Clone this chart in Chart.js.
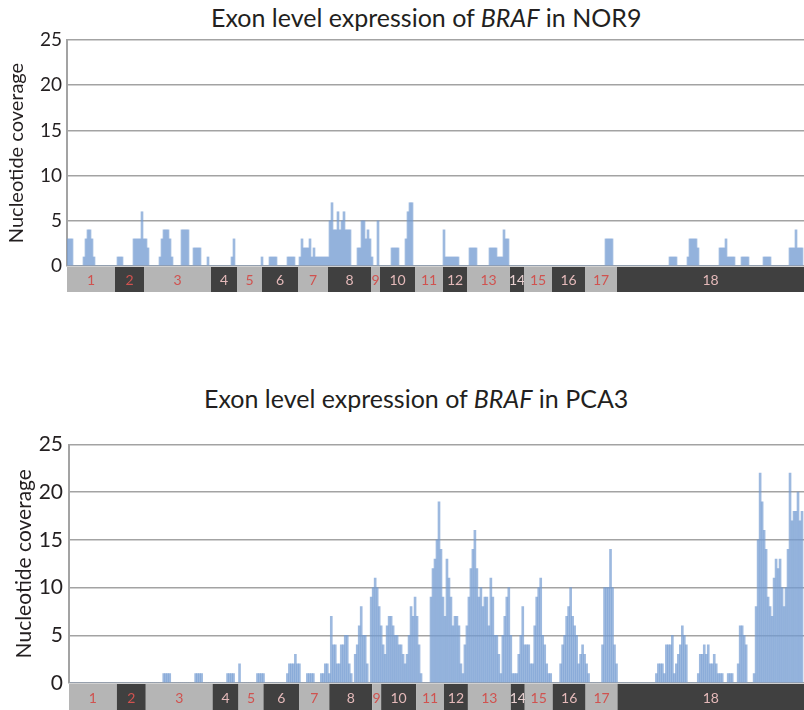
<!DOCTYPE html>
<html>
<head>
<meta charset="utf-8">
<script src="https://cdn.jsdelivr.net/npm/chart.js@4.4.1/dist/chart.umd.min.js"></script>
<style>
  body { margin: 0; width: 804px; height: 710px; overflow: hidden; background: #fff; font-family: Lato, sans-serif; }
  .title { position: absolute; font-size: 25px; line-height: 1; color: #231f20; white-space: nowrap; }
  .box { position: absolute; left: 0; width: 804px; }
</style>
</head>
<body>
<div class="title" style="left:211px; top:5px">Exon level expression of <i>BRAF</i> in NOR9</div>
<div class="box" style="top:0; height:300px"><canvas id="nor9"></canvas></div>
<div class="title" style="left:204px; top:386px">Exon level expression of <i>BRAF</i> in PCA3</div>
<div class="box" style="top:380px; height:330px"><canvas id="pca3"></canvas></div>
<script>
// exon track along the gene (units = position bins of 2, same scale as the coverage)
const exonNames = ["1", "2", "3", "4", "5", "6", "7", "8", "9", "10", "11", "12", "13", "14", "15", "16", "17", "18"];
const exonEdges = [0, 48, 77, 144, 170, 195, 231, 261, 304, 313, 348, 376, 400, 443, 457, 485, 518, 550, 737];
const exonFill = ["#b5b5b5", "#404040"];
const exonText = ["#d0524f", "#d0524f", "#d0524f", "#e4b9b9", "#d0524f", "#e4b9b9", "#d0524f", "#e4b9b9", "#d0524f",
                  "#e4b9b9", "#d0524f", "#e4b9b9", "#d0524f", "#e8d0d0", "#d0524f", "#e4b9b9", "#d0524f", "#e4b9b9"];

const yTicks = [0, 5, 10, 15, 20, 25];
const binWidth = 2;

// nucleotide coverage per bin, NOR9
const nor9 = [
  3,3,3,0,0,0,0,0,1,3,4,4,3,1,0,0,0,0,0,0,
  0,0,0,0,0,1,1,1,0,0,0,0,0,3,3,3,3,6,3,3,
  2,0,0,0,0,0,1,3,4,4,4,3,1,0,0,0,0,4,4,4,
  4,0,0,2,2,2,2,0,0,0,1,0,0,0,0,0,0,0,0,0,
  0,0,1,3,0,0,0,0,0,0,0,0,0,0,0,0,0,1,0,0,
  0,1,1,1,1,0,0,0,0,0,1,1,1,1,0,0,1,3,2,2,
  2,3,1,2,1,1,1,1,1,1,1,5,7,4,4,6,4,5,6,4,
  4,4,0,0,0,2,2,5,5,3,4,3,1,0,0,5,0,0,0,0,
  0,0,2,2,2,2,0,0,0,3,6,7,7,0,0,0,0,0,0,0,
  0,0,0,0,0,0,0,0,4,1,1,1,1,1,1,1,0,0,0,0,
  0,2,2,2,2,0,0,0,0,0,0,2,2,2,2,1,1,1,4,3,
  3,0,0,0,0,0,0,0,0,0,0,0,0,0,0,0,0,0,0,0,
  0,0,0,0,0,0,0,0,0,0,0,0,0,0,0,0,0,0,0,0,
  0,0,0,0,0,0,0,0,0,3,3,3,3,0,0,0,0,0,0,0,
  0,0,0,0,0,0,0,0,0,0,0,0,0,0,0,0,0,0,0,0,
  0,1,1,1,1,0,0,0,0,0,1,3,3,3,3,2,0,0,0,0,
  0,0,0,0,0,0,2,2,2,3,1,1,1,1,0,0,0,1,1,1,
  1,0,0,0,0,0,0,0,1,1,1,1,0,0,0,0,0,0,0,0,
  0,2,2,2,4,2,2,2
];

// nucleotide coverage per bin, PCA3
const pca3 = [
  0,0,0,0,0,0,0,0,0,0,0,0,0,0,0,0,0,0,0,0,
  0,0,0,0,0,0,0,0,0,0,0,0,0,0,0,0,0,0,0,0,
  0,0,0,0,0,0,0,1,1,1,1,0,0,0,0,0,0,0,0,0,
  0,0,0,1,1,1,1,0,0,0,0,0,0,0,0,0,0,0,0,1,
  1,1,1,0,0,2,0,0,0,0,0,0,0,0,1,1,1,1,0,0,
  0,0,0,0,0,0,0,0,0,1,2,2,2,3,2,2,0,0,0,1,
  1,1,1,0,0,0,1,1,2,2,1,7,4,4,2,2,4,4,5,5,
  2,1,0,3,4,6,8,5,5,2,0,9,10,11,10,8,6,4,3,6,
  7,7,6,5,5,4,4,3,2,3,5,8,7,9,7,4,1,0,0,0,
  0,9,12,13,15,19,14,9,7,13,11,9,6,7,7,6,2,1,4,6,
  9,12,14,16,12,9,10,8,9,9,6,11,9,5,5,3,1,5,7,9,
  10,5,1,1,1,3,5,8,4,4,4,2,2,6,9,10,11,5,4,2,
  1,1,0,0,0,0,2,4,5,7,8,10,7,6,5,2,3,4,3,2,
  1,0,0,0,0,0,0,4,10,10,10,14,10,4,2,0,0,0,0,0,
  0,0,0,0,0,0,0,0,0,0,0,0,0,0,1,2,2,2,1,4,
  4,4,5,1,2,3,4,6,5,4,0,0,0,0,0,1,3,3,4,3,
  4,2,2,3,2,1,1,1,0,0,1,1,1,0,0,2,6,6,5,4,
  0,0,0,1,8,15,22,19,16,14,9,8,7,11,13,12,13,10,8,10,
  14,22,17,18,18,20,17,18
];

const exonTrack = {
  id: "exonTrack",
  afterDraw(chart, args, opts) {
    const { ctx, chartArea, scales: { x } } = chart;
    const top = chartArea.bottom + 1;
    ctx.save();
    ctx.font = "14px Lato";
    ctx.textAlign = "center";
    ctx.textBaseline = "middle";
    exonNames.forEach((name, i) => {
      const x0 = x.getPixelForValue(exonEdges[i]);
      const x1 = x.getPixelForValue(exonEdges[i + 1]);
      ctx.fillStyle = exonFill[i % 2];
      ctx.fillRect(x0, top, x1 - x0, opts.height);
      ctx.fillStyle = exonText[i];
      ctx.fillText(name, (x0 + x1) / 2, top + opts.height / 2 + 1);
    });
    ctx.restore();
  }
};

function coverageChart(id, values, cfg) {
  return new Chart(document.getElementById(id), {
    type: "bar",
    data: {
      datasets: [{
        data: values.map((v, i) => ({ x: i * binWidth + binWidth / 2, y: v })),
        backgroundColor: "rgba(115, 155, 210, 0.7)",
        borderWidth: 0,
        barPercentage: 1,
        categoryPercentage: 1,
      }],
    },
    options: {
      responsive: true,
      maintainAspectRatio: false,
      animation: false,
      layout: { padding: cfg.padding },
      plugins: {
        legend: { display: false },
        tooltip: { enabled: false },
        exonTrack: { height: cfg.track },
      },
      scales: {
        x: { type: "linear", display: false, offset: false, min: 0, max: exonEdges[exonEdges.length - 1] },
        y: {
          min: yTicks[0],
          max: yTicks[yTicks.length - 1],
          afterFit: (s) => { s.width = cfg.axisX; },
          afterBuildTicks: (s) => { s.ticks = yTicks.map((v) => ({ value: v })); },
          ticks: { padding: cfg.tickPad, color: "#231f20", font: { family: "Lato", size: cfg.tickSize } },
          grid: { color: "#a3a3a3", lineWidth: 1.6, drawTicks: false },
          border: { color: "#a3a3a3", width: 2 },
          title: {
            display: true,
            text: "Nucleotide coverage",
            color: "#231f20",
            font: { family: "Lato", size: cfg.titleSize },
            padding: { top: cfg.titlePad, bottom: 0 },
          },
        },
      },
    },
    plugins: [exonTrack],
  });
}

coverageChart("nor9", nor9, { padding: { top: 40, bottom: 34, left: 0, right: 0 }, track: 25, axisX: 67, tickPad: 5, tickSize: 19, titleSize: 20, titlePad: 5 });
coverageChart("pca3", pca3, { padding: { top: 64.5, bottom: 27, left: 0, right: 0 }, track: 26, axisX: 69, tickPad: 6, tickSize: 21, titleSize: 21, titlePad: 12 });
</script>
</body>
</html>
